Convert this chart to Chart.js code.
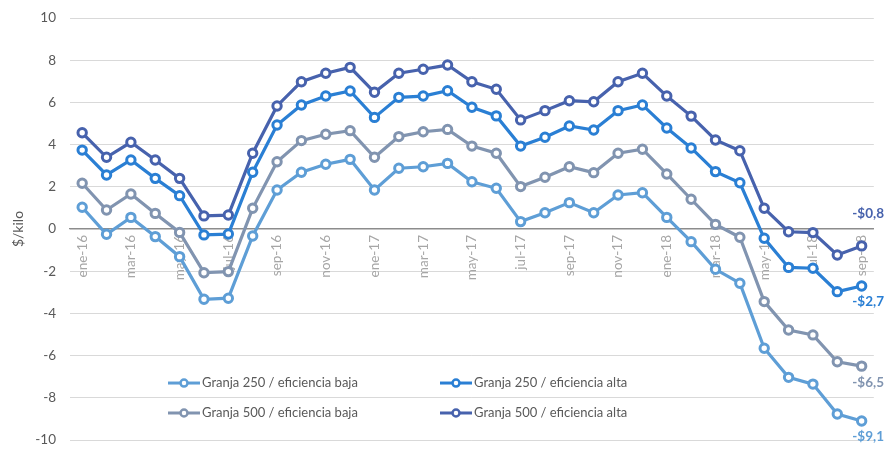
<!DOCTYPE html>
<html>
<head>
<meta charset="utf-8">
<script src="https://cdn.jsdelivr.net/npm/chart.js@4/dist/chart.umd.min.js"></script>
<style>
html,body{margin:0;padding:0;background:#fff;}
#wrap{width:884px;height:450px;position:relative;}
</style>
</head>
<body>
<div id="wrap"><canvas id="c" width="884" height="450"></canvas></div>
<script>
const months = ["ene-16","feb-16","mar-16","abr-16","may-16","jun-16","jul-16","ago-16","sep-16","oct-16","nov-16","dic-16",
"ene-17","feb-17","mar-17","abr-17","may-17","jun-17","jul-17","ago-17","sep-17","oct-17","nov-17","dic-17",
"ene-18","feb-18","mar-18","abr-18","may-18","jun-18","jul-18","ago-18","sep-18"];

const granja250Baja = [1.03,-0.25,0.55,-0.36,-1.31,-3.33,-3.28,-0.33,1.85,2.69,3.07,3.30,
1.85,2.88,2.95,3.11,2.24,1.93,0.35,0.77,1.25,0.77,1.61,1.72,
0.55,-0.60,-1.91,-2.57,-5.65,-7.03,-7.35,-8.77,-9.1];
const granja250Alta = [3.74,2.56,3.27,2.40,1.58,-0.28,-0.24,2.69,4.93,5.88,6.30,6.54,
5.29,6.24,6.30,6.55,5.77,5.36,3.93,4.35,4.88,4.69,5.61,5.88,
4.79,3.84,2.72,2.19,-0.44,-1.82,-1.86,-2.97,-2.7];
const granja500Baja = [2.17,0.90,1.66,0.74,-0.16,-2.07,-2.02,0.98,3.19,4.19,4.49,4.66,
3.40,4.38,4.61,4.72,3.93,3.59,2.01,2.45,2.95,2.67,3.59,3.78,
2.61,1.41,0.22,-0.39,-3.44,-4.79,-5.02,-6.29,-6.5];
const granja500Alta = [4.56,3.40,4.11,3.27,2.40,0.62,0.66,3.59,5.83,6.98,7.38,7.66,
6.48,7.38,7.57,7.77,6.98,6.62,5.17,5.61,6.08,6.03,6.98,7.38,
6.30,5.35,4.22,3.71,0.98,-0.13,-0.17,-1.23,-0.8];

const seriesNames = ["Granja 250 / eficiencia baja","Granja 250 / eficiencia alta","Granja 500 / eficiencia baja","Granja 500 / eficiencia alta"];
const endLabels = ["-$9,1","-$2,7","-$6,5","-$0,8"];
const yTicks = [-10,-8,-6,-4,-2,0,2,4,6,8,10];

const colors = ["#5e9ed6","#2a7fd4","#8194b0","#4762ad"];
const FONT = "Lato, 'Open Sans', sans-serif";

function ds(label, data, color){
  return {label, data, borderColor: color, backgroundColor: "#fff",
    borderWidth: 3.2, pointRadius: 4.2, pointHoverRadius: 4.2, pointBorderWidth: 3,
    pointBackgroundColor: "#fff", pointBorderColor: color, tension: 0};
}

const endLabelPlugin = {
  id: "endLabels",
  afterDatasetsDraw(chart){
    const ctx = chart.ctx;
    ctx.save();
    ctx.font = "bold 13.5px " + FONT;
    ctx.textAlign = "right";
    ctx.textBaseline = "middle";
    chart.data.datasets.forEach((d, i) => {
      const meta = chart.getDatasetMeta(i);
      const pt = meta.data[meta.data.length - 1];
      ctx.fillStyle = colors[i];
      const dy = (i === 3) ? -32 : 16;
      ctx.fillText(endLabels[i], 884, pt.y + dy);
    });
    ctx.restore();
  }
};

const legendPlugin = {
  id: "inLegend",
  afterDatasetsDraw(chart){
    const ctx = chart.ctx;
    const y0 = chart.scales.y;
    ctx.save();
    ctx.font = "13px " + FONT;
    ctx.textBaseline = "middle";
    ctx.textAlign = "left";
    const cols = [168, 440];
    const rows = [y0.getPixelForValue(-7.3), y0.getPixelForValue(-8.72)];
    const order = [[0,0],[1,0],[0,1],[1,1]];
    chart.data.datasets.forEach((d, i) => {
      const [c, r] = order[i];
      const x = cols[c], y = rows[r];
      ctx.strokeStyle = colors[i];
      ctx.lineWidth = 3;
      ctx.beginPath(); ctx.moveTo(x, y); ctx.lineTo(x + 32, y); ctx.stroke();
      ctx.beginPath(); ctx.arc(x + 16, y, 3.5, 0, Math.PI*2);
      ctx.fillStyle = "#fff"; ctx.fill(); ctx.lineWidth = 2.5; ctx.stroke();
      ctx.fillStyle = "#595959";
      ctx.fillText(d.label, x + 34, y);
    });
    ctx.restore();
  }
};

new Chart(document.getElementById("c"), {
  type: "line",
  data: {
    labels: months,
    datasets: [
      ds(seriesNames[0], granja250Baja, colors[0]),
      ds(seriesNames[1], granja250Alta, colors[1]),
      ds(seriesNames[2], granja500Baja, colors[2]),
      ds(seriesNames[3], granja500Alta, colors[3])
    ]
  },
  options: {
    responsive: false,
    animation: false,
    devicePixelRatio: 1,
    layout: { padding: { top: 18, right: 10, bottom: 10, left: 0 } },
    plugins: { legend: { display: false }, tooltip: { enabled: false } },
    scales: {
      x: {
        position: { y: 0 },
        offset: true,
        afterFit(scale){ scale.height = 0; scale.paddingTop = 0; scale.paddingBottom = 0; },
        grid: { display: false, drawTicks: false },
        border: { display: true, color: "#8c8c8c", width: 1.3 },
        ticks: {
          autoSkip: false, maxRotation: 90, minRotation: 90, padding: 6,
          color: "#a6a6a6", font: { family: FONT, size: 13.5 },
          callback: function(v, i){ return i % 2 === 0 ? months[i] : ""; }
        }
      },
      y: {
        min: -10, max: 10,
        afterFit(scale){ scale.width = 70; scale.paddingTop = 0; scale.paddingBottom = 0; },
        afterBuildTicks(scale){ scale.ticks = yTicks.map(v => ({value: v})); },
        grid: { color: "#d9d9d9", lineWidth: 1, drawTicks: false },
        border: { display: false },
        ticks: { color: "#595959", padding: 14, font: { family: FONT, size: 13.5 } },
        title: { display: true, text: "$/kilo", color: "#595959", font: { family: FONT, size: 14 }, padding: { top: 10, bottom: 0 } }
      }
    }
  },
  plugins: [legendPlugin, endLabelPlugin]
});
</script>
</body>
</html>
